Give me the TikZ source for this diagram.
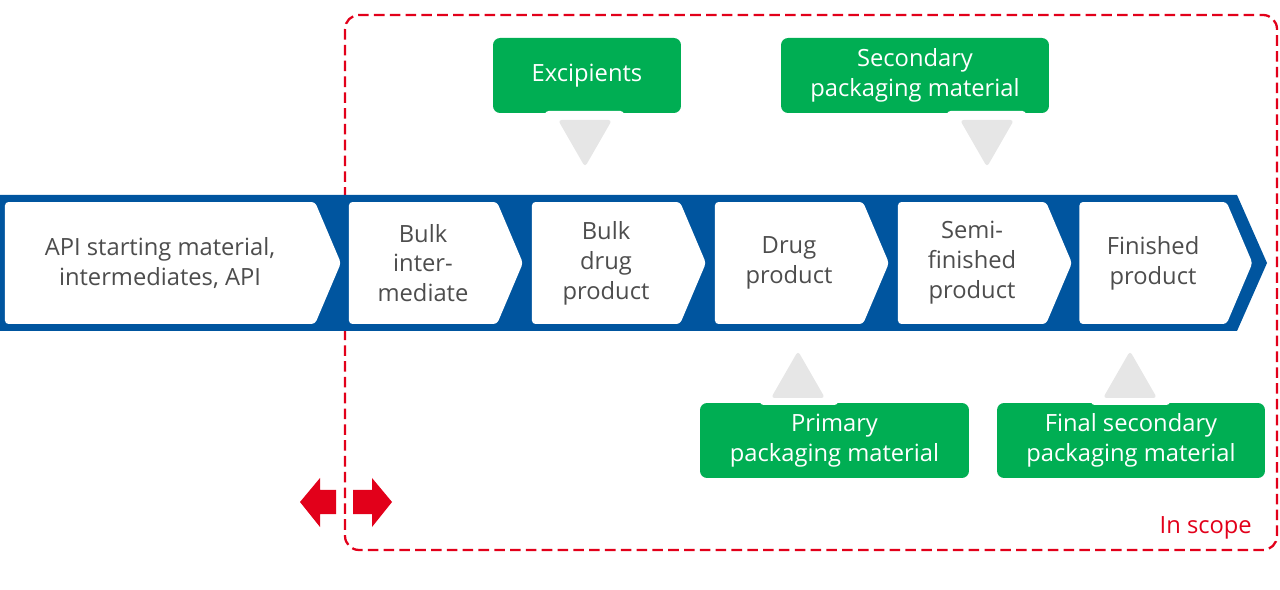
\documentclass[tikz,border=0pt]{standalone}
\usepackage{fontspec}
\setmainfont{Open Sans}
\usetikzlibrary{shapes.symbols,positioning}
\definecolor{bandblue}{HTML}{00559F}
\definecolor{boxgreen}{HTML}{00AE53}
\definecolor{tipgray}{HTML}{E6E6E6}
\definecolor{txtgray}{HTML}{4D4D4D}
\definecolor{scopered}{HTML}{E2001A}
\tikzset{
  stage/.style={signal, signal to=east, signal from=nowhere, signal pointer angle=134,
    fill=white, rounded corners=2pt, minimum height=2.44cm, inner sep=0pt,
    align=center, text=txtgray, font=\fontsize{13.5}{17}\selectfont},
  feed/.style={fill=boxgreen, rounded corners=4pt, minimum height=1.5cm, inner sep=0pt,
    align=center, text=white, font=\fontsize{13.5}{17}\selectfont},
  bigarrow/.style={fill=scopered}
}
\begin{document}
\begin{tikzpicture}[x=0.02cm,y=-0.02cm]
\useasboundingbox (0,0) rectangle (1280,590);
%============ scope
\draw[scopered, line width=1.3pt, dash pattern=on 6pt off 3pt, rounded corners=8pt] (345,15) rectangle (1277,550);
\node[text=scopered, font=\fontsize{13.5}{17}\selectfont, anchor=east] (scope) at (1258,528) {In scope};
%============ band
\fill[bandblue] (0,195) -- (1237,195) -- (1267,263) -- (1237,331) -- (0,331) -- cycle;
\node[stage, minimum width=6.72cm] (api) at (160,263) {API starting material,\\intermediates, API};
\node[stage, minimum width=3.48cm] (bulki) at (423,263) {Bulk\\inter-\\mediate};
\node[stage, minimum width=3.48cm] (bulkd) at (606,263) {Bulk\\drug\\product};
\node[stage, minimum width=3.48cm] (drug) at (789,263) {Drug\\product};
\node[stage, minimum width=3.48cm] (semi) at (972,263) {Semi-\\finished\\product};
\node[stage, minimum width=3.46cm] (fin) at (1153,263) {Finished\\product};
%============ inputs
\node[feed, minimum width=3.76cm] (excip) at (587,75.5) {Excipients};
\node[feed, minimum width=5.36cm] (second) at (915,75.5) {Secondary\\packaging material};
\node[feed, minimum width=5.38cm] (prim) at (834.5,440.5) {Primary\\packaging material};
\node[feed, minimum width=5.36cm] (final) at (1131,440.5) {Final secondary\\packaging material};
\fill[white, rounded corners=2pt] (545,111) rectangle (624,118);
\fill[white, rounded corners=2pt] (947,111) rectangle (1026,118);
\fill[white, rounded corners=2pt] (760,398) rectangle (838,405);
\fill[white, rounded corners=2pt] (1091,398) rectangle (1170,405);
\fill[tipgray, rounded corners=2pt] (558,120) -- (612,120) -- (585,167) -- cycle;
\fill[tipgray, rounded corners=2pt] (960,120) -- (1014,120) -- (987,167) -- cycle;
\fill[tipgray, rounded corners=2pt] (771,398) -- (825,398) -- (798,351) -- cycle;
\fill[tipgray, rounded corners=2pt] (1103,398) -- (1157,398) -- (1130,351) -- cycle;
%============ boundary arrows
\fill[bigarrow] (336,490) -- (320,490) -- (320,478) -- (300,502) -- (320,527) -- (320,514) -- (336,514) -- cycle;
\fill[bigarrow] (353,490) -- (372,490) -- (372,478) -- (392,502) -- (372,527) -- (372,514) -- (353,514) -- cycle;
\end{tikzpicture}
\end{document}
